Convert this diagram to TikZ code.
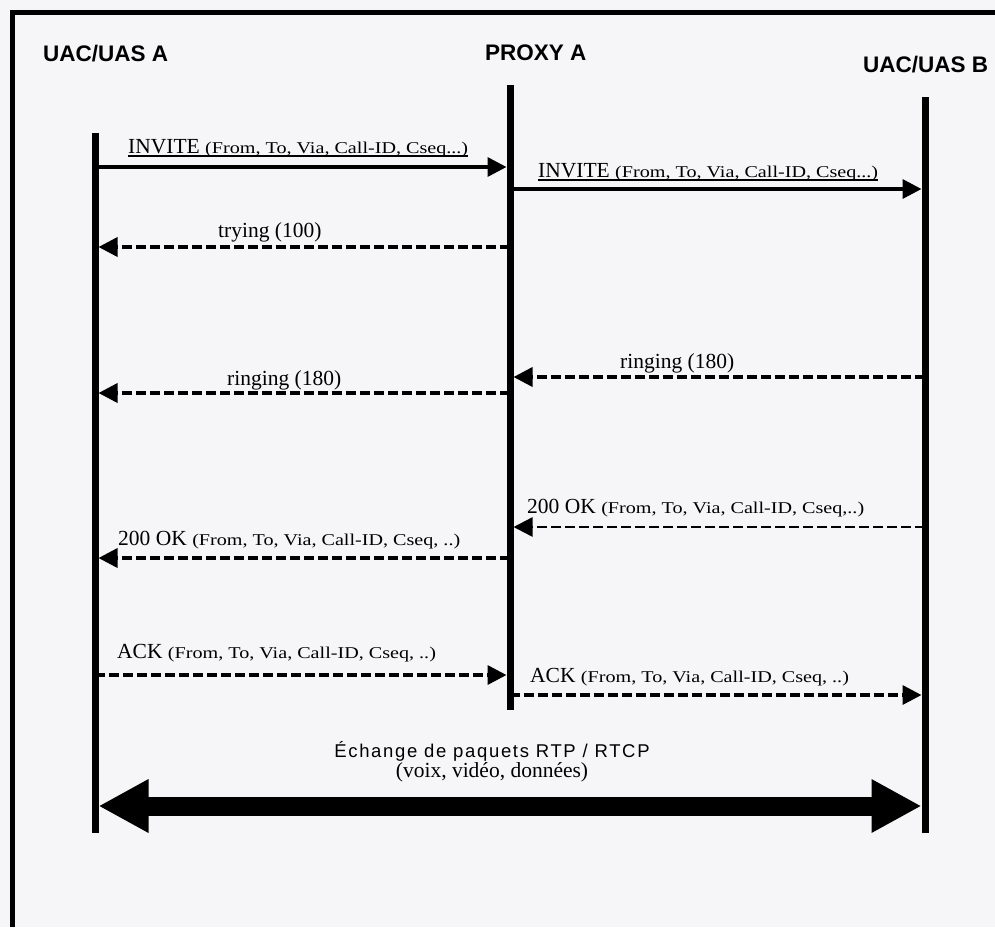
\documentclass[tikz,border=0pt]{standalone}
\usepackage{fontspec}
\usepackage{graphicx}
\setmainfont{Liberation Serif}
\newfontfamily\hdrfont{Liberation Sans}
\newfontfamily\capfont{Liberation Sans}[LetterSpace=9]
\usetikzlibrary{arrows.meta}

\definecolor{paper}{RGB}{246,246,248}

% parameter list of a SIP message, set smaller and a little wider
\newcommand{\sipargs}[1]{{\fontsize{16.5}{18}\selectfont\scalebox{1.22}[1]{#1}}}
% underlined label with a firm rule
\newsavebox{\ulbx}
\newcommand{\ulabel}[1]{\sbox{\ulbx}{#1}\makebox[0pt][l]{\rule[-4pt]{\wd\ulbx}{1.8pt}}\usebox{\ulbx}}

\begin{document}
\begin{tikzpicture}[x=1pt,y=-1pt,
  lifeline/.style={line width=7pt},
  msg/.style={line width=3.5pt,-{Triangle[length=19pt,width=19pt]},shorten >=3.5pt},
  reply/.style={msg,dash pattern=on 10pt off 4pt},
  lbl/.style={inner sep=0pt,anchor=base west,font=\fontsize{21.5}{24}\selectfont},
  hdr/.style={inner sep=0pt,anchor=base west,font=\hdrfont\bfseries\fontsize{22.5}{24}\selectfont},
  rtp/.style={line width=19pt,{Triangle[length=50pt,width=50pt]}-{Triangle[length=50pt,width=50pt]},shorten <=3.5pt,shorten >=3.5pt}
]
\useasboundingbox (0,0) rectangle (995,927);
\fill[paper] (0,0) rectangle (995,927);

% page frame (top and left edges)
\draw[line width=5pt] (10,12) -- (995,12);
\draw[line width=5pt] (12.5,10) -- (12.5,927);

% participants
\node[hdr] (hA) at (43,61.5) {UAC/UAS A};
\node[hdr] (hP) at (485,60) {PROXY A};
\node[hdr] (hB) at (863,72) {UAC/UAS B};

% lifelines
\coordinate (aTop) at (95,133);  \coordinate (aBot) at (95,833);
\coordinate (pTop) at (510,85);  \coordinate (pBot) at (510,710);
\coordinate (bTop) at (925,97);  \coordinate (bBot) at (925,833);
\draw[lifeline] (aTop) -- (aBot);
\draw[lifeline] (pTop) -- (pBot);
\draw[lifeline] (bTop) -- (bBot);

% message anchor points on the lifelines
\coordinate (a1) at (95,167);  \coordinate (p1) at (510,167);
\coordinate (p2) at (510,189); \coordinate (b2) at (925,189);
\coordinate (p3) at (510,247); \coordinate (a3) at (95,247);
\coordinate (b4) at (925,377); \coordinate (p4) at (510,377);
\coordinate (p5) at (510,393); \coordinate (a5) at (95,393);
\coordinate (b6) at (925,527); \coordinate (p6) at (510,527);
\coordinate (p7) at (510,558); \coordinate (a7) at (95,558);
\coordinate (a8) at (95,675);  \coordinate (p8) at (510,675);
\coordinate (p9) at (510,695); \coordinate (b9) at (925,695);

% messages
\draw[msg] (a1) -- (p1);
\draw[msg] (p2) -- (b2);
\draw[reply] (p3) -- (a3);
\draw[reply] (b4) -- (p4);
\draw[reply] (p5) -- (a5);
\draw[reply,line width=2.5pt] (b6) -- (p6);
\draw[reply] (p7) -- (a7);
\draw[reply] (a8) -- (p8);
\draw[reply] (p9) -- (b9);

% message labels
\node[lbl] (m1) at (128,153) {\ulabel{INVITE \sipargs{(From, To, Via, Call-ID, Cseq...)}}};
\node[lbl] (m2) at (538,177) {\ulabel{INVITE \sipargs{(From, To, Via, Call-ID, Cseq...)}}};
\node[lbl] (m3) at (218,237) {trying (100)};
\node[lbl] (m4) at (620,368) {ringing (180)};
\node[lbl] (m5) at (227,385) {ringing (180)};
\node[lbl] (m6) at (527,513) {200 OK \sipargs{(From, To, Via, Call-ID, Cseq,..)}};
\node[lbl] (m7) at (118,545) {200 OK \sipargs{(From, To, Via, Call-ID, Cseq, ..)}};
\node[lbl] (m8) at (117,658) {ACK \sipargs{(From, To, Via, Call-ID, Cseq, ..)}};
\node[lbl] (m9) at (530,682) {ACK \sipargs{(From, To, Via, Call-ID, Cseq, ..)}};

% media exchange
\coordinate (aR) at (95,806);
\coordinate (bR) at (925,806);
\draw[rtp] (aR) -- (bR);
\node[inner sep=0pt,anchor=base,font=\capfont\fontsize{18.5}{20}\selectfont] (rtpT) at (492,757) {Échange de paquets RTP / RTCP};
\node[inner sep=0pt,anchor=base,font=\fontsize{21.5}{24}\selectfont] (rtpS) at (492,777) {(voix, vidéo, données)};
\end{tikzpicture}
\end{document}
